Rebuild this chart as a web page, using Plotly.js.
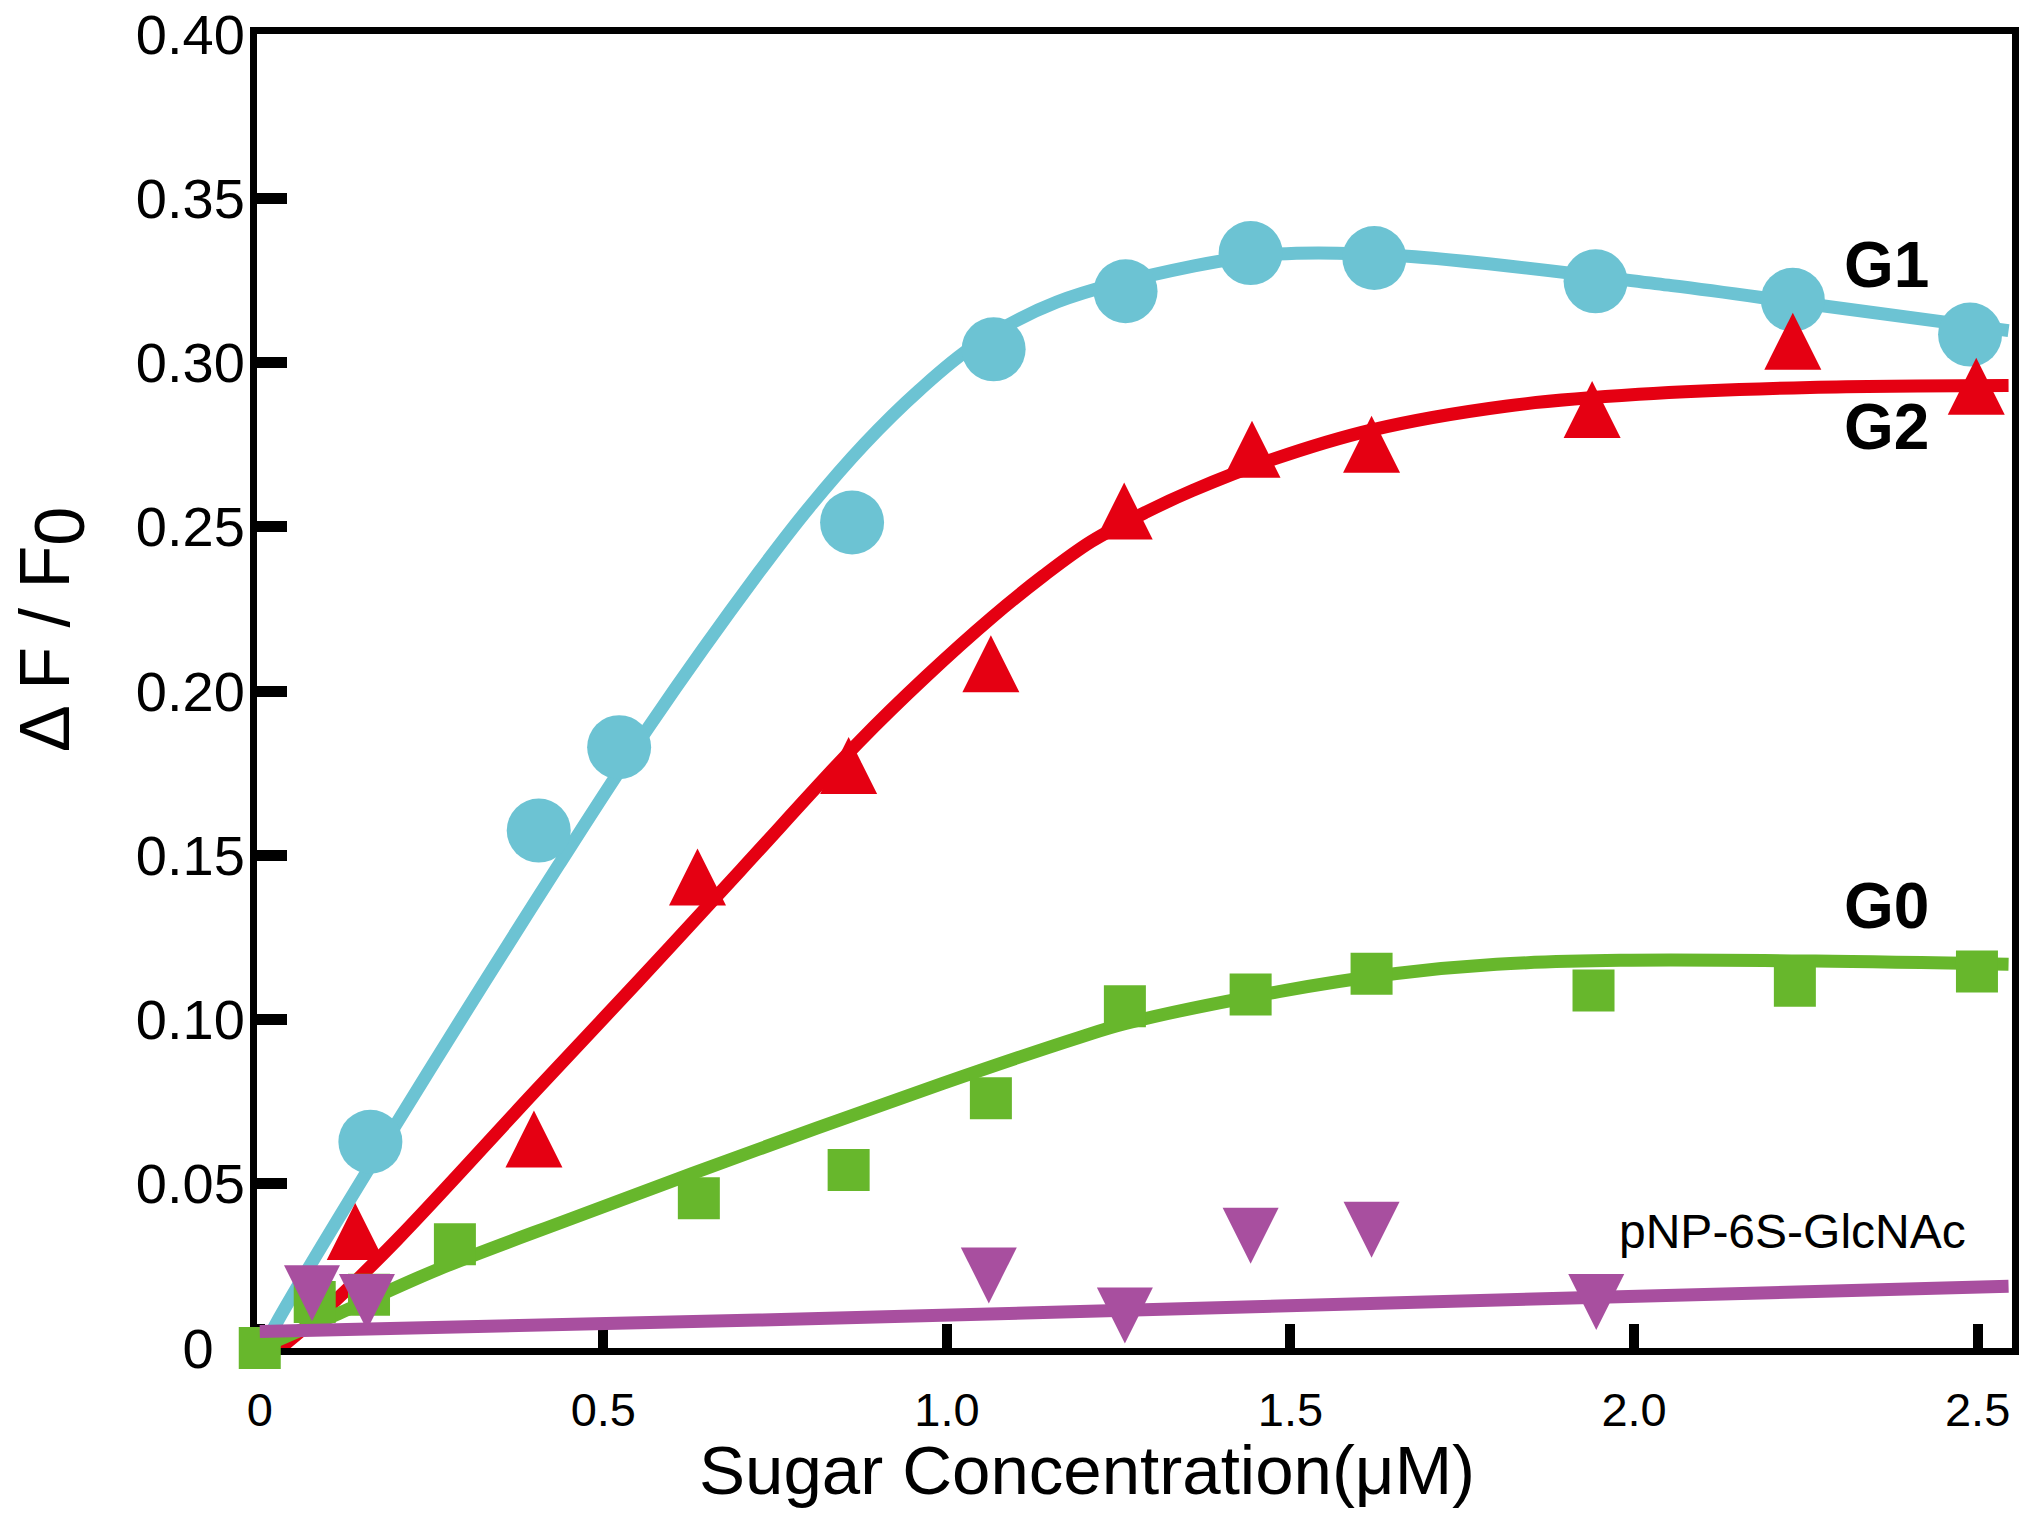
<!DOCTYPE html>
<html>
<head>
<meta charset="utf-8">
<script src="https://cdn.plot.ly/plotly-3.0.1.min.js"></script>
<style>
html,body{margin:0;padding:0;background:#ffffff;}
#chart{width:2044px;height:1528px;}
</style>
</head>
<body>
<div id="chart"></div>
<script>
// ---- data ----
const g1X = [0.161, 0.406, 0.523, 0.862, 1.068, 1.260, 1.442, 1.622, 1.944, 2.231, 2.489];
const g1Y = [0.0628, 0.1575, 0.1829, 0.2513, 0.3040, 0.3217, 0.3333, 0.3318, 0.3247, 0.3191, 0.3085];
const g1FitX = [0.005, 0.028, 0.198, 0.435, 0.566, 0.726, 0.800, 0.880, 0.960, 1.040, 1.160, 1.360, 1.480, 1.660, 2.055, 2.255, 2.545];
const g1FitY = [0.000, 0.009, 0.068, 0.147, 0.189, 0.236, 0.256, 0.2752, 0.2916, 0.3052, 0.3184, 0.3294, 0.3330, 0.3325, 0.3234, 0.3178, 0.3097];

const g2X = [0.139, 0.399, 0.637, 0.857, 1.064, 1.258, 1.444, 1.618, 1.939, 2.231, 2.498];
const g2Y = [0.0355, 0.0636, 0.1434, 0.1773, 0.2083, 0.2548, 0.2736, 0.2751, 0.2857, 0.3065, 0.2928];
const g2FitX = [0.030, 0.100, 0.200, 0.400, 0.550, 0.700, 0.872, 0.970, 1.066, 1.140, 1.210, 1.290, 1.357, 1.474, 1.619, 1.813, 2.007, 2.256, 2.545];
const g2FitY = [0.000, 0.0125, 0.0330, 0.0780, 0.1115, 0.1455, 0.1845, 0.2045, 0.2225, 0.2350, 0.2455, 0.2545, 0.2610, 0.2705, 0.2795, 0.2867, 0.2903, 0.2924, 0.2930];

const g0X = [0.000, 0.080, 0.159, 0.284, 0.639, 0.857, 1.064, 1.259, 1.442, 1.618, 1.941, 2.234, 2.499];
const g0Y = [0.000, 0.014, 0.0162, 0.0316, 0.0456, 0.0542, 0.0760, 0.1040, 0.1076, 0.1139, 0.1088, 0.1103, 0.1146];
const g0FitX = [0.000, 0.115, 0.260, 0.455, 0.726, 0.993, 1.192, 1.260, 1.483, 1.654, 1.800, 1.980, 2.264, 2.545];
const g0FitY = [0.000, 0.0105, 0.0240, 0.0395, 0.0605, 0.0805, 0.0945, 0.0988, 0.1085, 0.1140, 0.1168, 0.1180, 0.1178, 0.1168];

const pnpX = [0.000, 0.076, 0.156, 0.396, 0.525, 0.639, 0.857, 1.061, 1.259, 1.442, 1.618, 1.945];
const pnpY = [0.000, 0.0167, 0.0140, 0.0022, -0.0090, 0.0073, 0.0022, 0.0221, 0.0099, 0.0342, 0.0360, 0.0140];
const pnpFitX = [0.000, 0.726, 1.483, 2.545];
const pnpFitY = [0.005, 0.0085, 0.0128, 0.0188];

const xTickVals = [0, 0.5, 1.0, 1.5, 2.0, 2.5];
const xTickText = ['0', '0.5', '1.0', '1.5', '2.0', '2.5'];
const yTickVals = [0, 0.05, 0.10, 0.15, 0.20, 0.25, 0.30, 0.35, 0.40];
const yTickText = ['0\u00a0\u00a0', '0.05', '0.10', '0.15', '0.20', '0.25', '0.30', '0.35', '0.40'];

const seriesLabels = ['G1', 'G2', 'G0', 'pNP-6S-GlcNAc'];
const xTitle = 'Sugar Concentration(\u03bcM)';
const yTitle = '\u0394 F / F<sub><span style="font-size:143%">0</span></sub>';

// ---- styling / layout ----
const FONT = 'Liberation Sans, Arial, Helvetica, sans-serif';
const C_CYAN = '#6cc3d3', C_RED = '#e50012', C_GREEN = '#67b72c', C_PURPLE = '#a84f9f';
const W = 2044, H = 1528;
const plotL = 257, plotR = 2012, plotT = 34, plotB = 1348;
const yRange = [0, 0.40];
const pxPerUnitY = (plotB - plotT) / (yRange[1] - yRange[0]);
const triSize = 57, invSize = 56;
const d2 = (triSize / 2) / pxPerUnitY;   // centre the up-triangle on its value
const d3 = (invSize / 2) / pxPerUnitY;   // centre the down-triangle on its value
function px(x) { return (x - plotL) / (plotR - plotL); }
function py(y) { return (plotB - y) / (plotB - plotT); }

const LW = 13;
const traces = [
  {x: g1FitX, y: g1FitY, mode: 'lines', line: {color: C_CYAN, width: LW, shape: 'spline', smoothing: 1}, hoverinfo: 'skip'},
  {x: g1X, y: g1Y, mode: 'markers', marker: {symbol: 'circle', size: 64, color: C_CYAN, line: {width: 0}}, cliponaxis: false},
  {x: g2FitX, y: g2FitY, mode: 'lines', line: {color: C_RED, width: LW, shape: 'spline', smoothing: 1}, hoverinfo: 'skip'},
  {x: g0FitX, y: g0FitY, mode: 'lines', line: {color: C_GREEN, width: LW, shape: 'spline', smoothing: 1}, hoverinfo: 'skip'},
  {x: g0X, y: g0Y, mode: 'markers', marker: {symbol: 'square', size: 42, color: C_GREEN, line: {width: 0}}, cliponaxis: false},
  {x: pnpFitX, y: pnpFitY, mode: 'lines', line: {color: C_PURPLE, width: LW, shape: 'spline', smoothing: 1}, hoverinfo: 'skip'},
  {x: g2X, y: g2Y, yaxis: 'y2', mode: 'markers', marker: {symbol: 'arrow-up', size: triSize, color: C_RED, line: {width: 0}}, cliponaxis: false},
  {x: pnpX, y: pnpY, yaxis: 'y3', mode: 'markers', marker: {symbol: 'arrow-down', size: invSize, color: C_PURPLE, line: {width: 0}}, cliponaxis: false}
];

const layout = {
  width: W, height: H,
  margin: {l: plotL, r: W - plotR, t: plotT, b: H - plotB, pad: 0},
  paper_bgcolor: '#ffffff', plot_bgcolor: '#ffffff',
  showlegend: false,
  font: {family: FONT, color: '#000000'},
  xaxis: {
    range: [-0.004, 2.55], showgrid: false, zeroline: false,
    showline: true, linecolor: '#000000', linewidth: 7, mirror: true,
    ticks: 'inside', ticklen: 24, tickwidth: 10, tickcolor: '#000000',
    tickvals: xTickVals, ticktext: xTickText,
    tickfont: {family: FONT, size: 47, color: '#000000'},
    ticklabelstandoff: 15, layer: 'below traces'
  },
  yaxis: {
    range: yRange, showgrid: false, zeroline: false,
    showline: true, linecolor: '#000000', linewidth: 7, mirror: true,
    ticks: 'inside', ticklen: 30, tickwidth: 11, tickcolor: '#000000',
    tickvals: yTickVals, ticktext: yTickText,
    tickfont: {family: FONT, size: 56, color: '#000000'},
    ticklabelstandoff: -6, layer: 'below traces'
  },
  yaxis2: {overlaying: 'y', range: [yRange[0] - d2, yRange[1] - d2], visible: false, showgrid: false, zeroline: false},
  yaxis3: {overlaying: 'y', range: [yRange[0] + d3, yRange[1] + d3], visible: false, showgrid: false, zeroline: false},
  annotations: [
    {text: yTitle, xref: 'paper', yref: 'paper', x: px(52), y: py(630), xanchor: 'center', yanchor: 'middle',
     textangle: -90, showarrow: false, font: {family: FONT, size: 70, color: '#000000'}},
    {text: xTitle, xref: 'paper', yref: 'paper', x: px(1087), y: py(1470), xanchor: 'center', yanchor: 'middle',
     showarrow: false, font: {family: FONT, size: 69, color: '#000000'}},
    {text: '<b>' + seriesLabels[0] + '</b>', xref: 'paper', yref: 'paper', x: px(1842), y: py(265), xanchor: 'left', yanchor: 'middle',
     showarrow: false, font: {family: FONT, size: 64, color: '#000000'}},
    {text: '<b>' + seriesLabels[1] + '</b>', xref: 'paper', yref: 'paper', x: px(1842), y: py(427), xanchor: 'left', yanchor: 'middle',
     showarrow: false, font: {family: FONT, size: 64, color: '#000000'}},
    {text: '<b>' + seriesLabels[2] + '</b>', xref: 'paper', yref: 'paper', x: px(1842), y: py(906), xanchor: 'left', yanchor: 'middle',
     showarrow: false, font: {family: FONT, size: 64, color: '#000000'}},
    {text: seriesLabels[3], xref: 'paper', yref: 'paper', x: px(1792), y: py(1231), xanchor: 'center', yanchor: 'middle',
     showarrow: false, font: {family: FONT, size: 48, color: '#000000'}}
  ]
};

Plotly.newPlot('chart', traces, layout, {displayModeBar: false, staticPlot: true});
</script>
</body>
</html>
